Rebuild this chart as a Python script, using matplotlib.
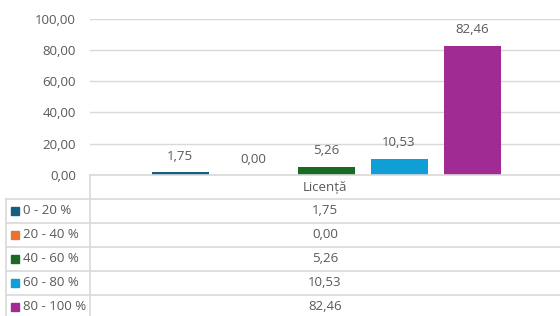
import matplotlib
matplotlib.use("Agg")
import matplotlib.pyplot as plt

# data
category = "Licență"
series = ["0 - 20 %", "20 - 40 %", "40 - 60 %", "60 - 80 %", "80 - 100 %"]
values = [1.75, 0.00, 5.26, 10.53, 82.46]
colors = ["#156082", "#E97132", "#196B24", "#0F9ED5", "#A02B93"]
yticks = [0, 20, 40, 60, 80, 100]

W, H = 560, 316
TXT = "#595959"
GRID = "#d9d9d9"
FS = 9.5
plt.rcParams["font.family"] = ["Open Sans", "DejaVu Sans"]


def fmt(v):
    return f"{v:.2f}".replace(".", ",")


fig = plt.figure(figsize=(W / 100, H / 100), dpi=100)

# plot area in pixel coords
px_l, px_r, px_top, px_bot = 90, 562, 18.5, 175
ax = fig.add_axes([px_l / W, 1 - px_bot / H, (px_r - px_l) / W, (px_bot - px_top) / H])
ax.set_ylim(0, 100)
ax.set_xlim(-0.5, 0.5)
ax.set_yticks(yticks)
ax.set_yticklabels([fmt(t) for t in yticks], color=TXT, fontsize=FS)
ax.tick_params(axis="y", length=0, pad=10)
ax.set_xticks([])
ax.yaxis.grid(True, color=GRID, linewidth=1)
ax.set_axisbelow(True)
for s in ax.spines.values():
    s.set_visible(False)

step = 73 / (px_r - px_l)
width = 57 / (px_r - px_l)
for i, (v, c) in enumerate(zip(values, colors)):
    x = (i - 2) * step
    ax.bar(x, v, width=width, color=c, zorder=3)
    ax.annotate(fmt(v), (x, v), xytext=(0, 11.5), textcoords="offset points",
                ha="center", va="center", color=TXT, fontsize=FS)

# data table drawn on an overlay in pixel coordinates
ov = fig.add_axes([0, 0, 1, 1])
ov.set_xlim(0, W)
ov.set_ylim(H, 0)
ov.axis("off")

row_top = px_bot
row_h = 24
n_rows = len(series) + 1
lw = 1.2
# header row (category)
ov.plot([px_l, W], [row_top, row_top], color=GRID, lw=lw)
ov.text((px_l + W) / 2, row_top + row_h / 2, category, ha="center", va="center",
        color=TXT, fontsize=FS)
for r in range(1, n_rows):
    y0 = row_top + r * row_h
    ov.plot([6, W], [y0, y0], color=GRID, lw=lw)
    v = values[r - 1]
    ov.add_patch(plt.Rectangle((11, y0 + row_h / 2 - 4), 8, 8, color=colors[r - 1]))
    ov.text(23, y0 + row_h / 2, series[r - 1], ha="left", va="center",
            color=TXT, fontsize=FS)
    ov.text((px_l + W) / 2, y0 + row_h / 2, fmt(v), ha="center", va="center",
            color=TXT, fontsize=FS)
ov.plot([px_l, px_l], [row_top, H + 10], color=GRID, lw=lw)
ov.plot([6, 6], [row_top + row_h, H + 10], color=GRID, lw=lw)

fig.savefig("out.png", dpi=100)
